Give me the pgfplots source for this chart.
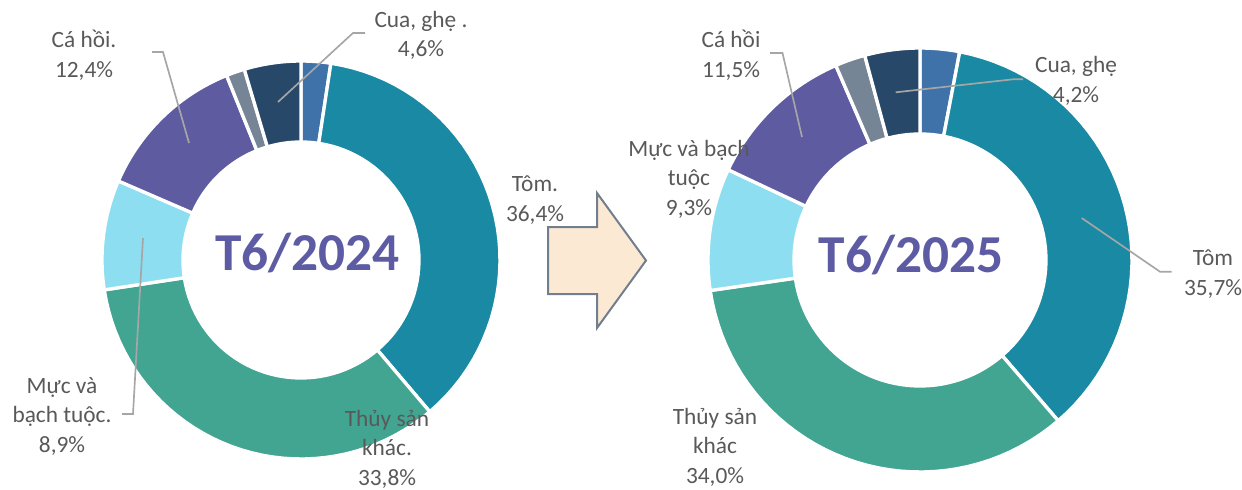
\documentclass[border=0pt]{standalone}
\usepackage{fontspec}
\setmainfont{Carlito}
\usepackage{pgfplots}
\usepackage{pgfplotstable}
\pgfplotsset{compat=1.18}

\definecolor{cBlue}{HTML}{3E72A8}
\definecolor{cTom}{HTML}{1A89A3}
\definecolor{cKhac}{HTML}{41A592}
\definecolor{cMuc}{HTML}{8DDEF0}
\definecolor{cCaHoi}{HTML}{5E5BA1}
\definecolor{cGray}{HTML}{768595}
\definecolor{cCua}{HTML}{274868}
\definecolor{titlecol}{HTML}{5D5BA3}
\definecolor{labcol}{HTML}{595959}
\definecolor{leadcol}{HTML}{A6A6A6}
\definecolor{arrowfill}{HTML}{FCE9D4}
\definecolor{arrowline}{HTML}{717E8E}

% shares in percent, clockwise from 12 o'clock
\pgfplotstableread{
value col
2.4  cBlue
36.4 cTom
33.8 cKhac
8.9  cMuc
12.4 cCaHoi
1.5  cGray
4.6  cCua
}\tabA
\pgfplotstableread{
value col
3.0  cBlue
35.7 cTom
34.0 cKhac
9.3  cMuc
11.5 cCaHoi
2.3  cGray
4.2  cCua
}\tabB

% #1 table, #2 cx, #3 cy, #4 outer R, #5 inner r
\newcommand\donut[5]{%
  \def\cum{0}%
  \pgfplotsforeachungrouped \i in {0,...,6}{%
    \pgfplotstablegetelem{\i}{value}\of{#1}\let\segval\pgfplotsretval
    \pgfplotstablegetelem{\i}{col}\of{#1}\let\segcol\pgfplotsretval
    \pgfmathsetmacro\sa{-90+3.6*\cum}%
    \pgfmathsetmacro\newcum{\cum+\segval}%
    \pgfmathsetmacro\sb{-90+3.6*\newcum}%
    \let\cum\newcum
    \edef\tmp{\noexpand\addplot[fill=\segcol, draw=white, line width=2pt, domain=0:4, samples=161]
      ({#2+(ifthenelse(x<1,#4,ifthenelse(x<2,#4-(#4-#5)*(x-1),ifthenelse(x<3,#5,#5+(#4-#5)*(x-3)))))*cos(ifthenelse(x<1,\sa+(\sb-\sa)*x,ifthenelse(x<2,\sb,ifthenelse(x<3,\sb+(\sa-\sb)*(x-2),\sa))))},
       {#3+(ifthenelse(x<1,#4,ifthenelse(x<2,#4-(#4-#5)*(x-1),ifthenelse(x<3,#5,#5+(#4-#5)*(x-3)))))*sin(ifthenelse(x<1,\sa+(\sb-\sa)*x,ifthenelse(x<2,\sb,ifthenelse(x<3,\sb+(\sa-\sb)*(x-2),\sa))))});}%
    \tmp
  }%
}

\begin{document}
\begin{tikzpicture}[
  lab/.style={font=\fontsize{14}{17.7}\selectfont, text=labcol, align=center, inner sep=0pt},
  lead/.style={draw=leadcol, line width=1pt},
  ttl/.style={font=\fontsize{32}{36}\selectfont\bfseries, text=titlecol, anchor=base, inner sep=0pt}]
\begin{axis}[
  hide axis, scale only axis,
  width=745.2pt, height=294pt,
  xmin=0, xmax=1242, ymin=0, ymax=490,
  y dir=reverse, clip=false, no markers]
\path (rel axis cs:0,0) rectangle (rel axis cs:1,1);

\donut{\tabA}{301}{260}{199}{118}
\donut{\tabB}{920}{260}{212}{126}

% arrow
\draw[fill=arrowfill, draw=arrowline, line width=1.2pt, line join=miter]
  (548,227) -- (597,227) -- (597,193) -- (646,260.5) -- (597,328) -- (597,294) -- (548,294) -- cycle;

% titles
\node[ttl] at (307.5,270) {T6/2024};
\node[ttl] at (911,272.5) {T6/2025};

% chart 1 labels
\draw[lead] (365,33) -- (353,33) -- (278,102);
\node[lab] at (421,35.5) {Cua, ghẹ .\\4,6\%};
\draw[lead] (152,52) -- (163,52) -- (189,143);
\node[lab] at (84,55) {Cá hồi.\\12,4\%};
\node[lab] at (535,200) {Tôm.\\36,4\%};
\draw[lead] (122,414) -- (133,414) -- (143,238);
\node[lab] at (62,416.5) {Mực và\\bạch tuộc.\\8,9\%};
\node[lab] at (387,449) {Thủy sản\\khác.\\33,8\%};

% chart 2 labels
\draw[lead] (770,53) -- (782.5,53) -- (802,137);
\node[lab] at (731,55) {Cá hồi\\11,5\%};
\draw[lead] (1023,79.3) -- (1013,79.3) -- (895.7,92.3);
\node[lab] at (1076,81) {Cua, ghẹ\\4,2\%};
\node[lab] at (689,179) {Mực và bạch\\tuộc\\9,3\%};
\draw[lead] (1171.7,271.7) -- (1160,271.7) -- (1081.7,218);
\node[lab] at (1213,274) {Tôm\\35,7\%};
\node[lab] at (715,447) {Thủy sản\\khác\\34,0\%};
\end{axis}
\end{tikzpicture}
\end{document}
